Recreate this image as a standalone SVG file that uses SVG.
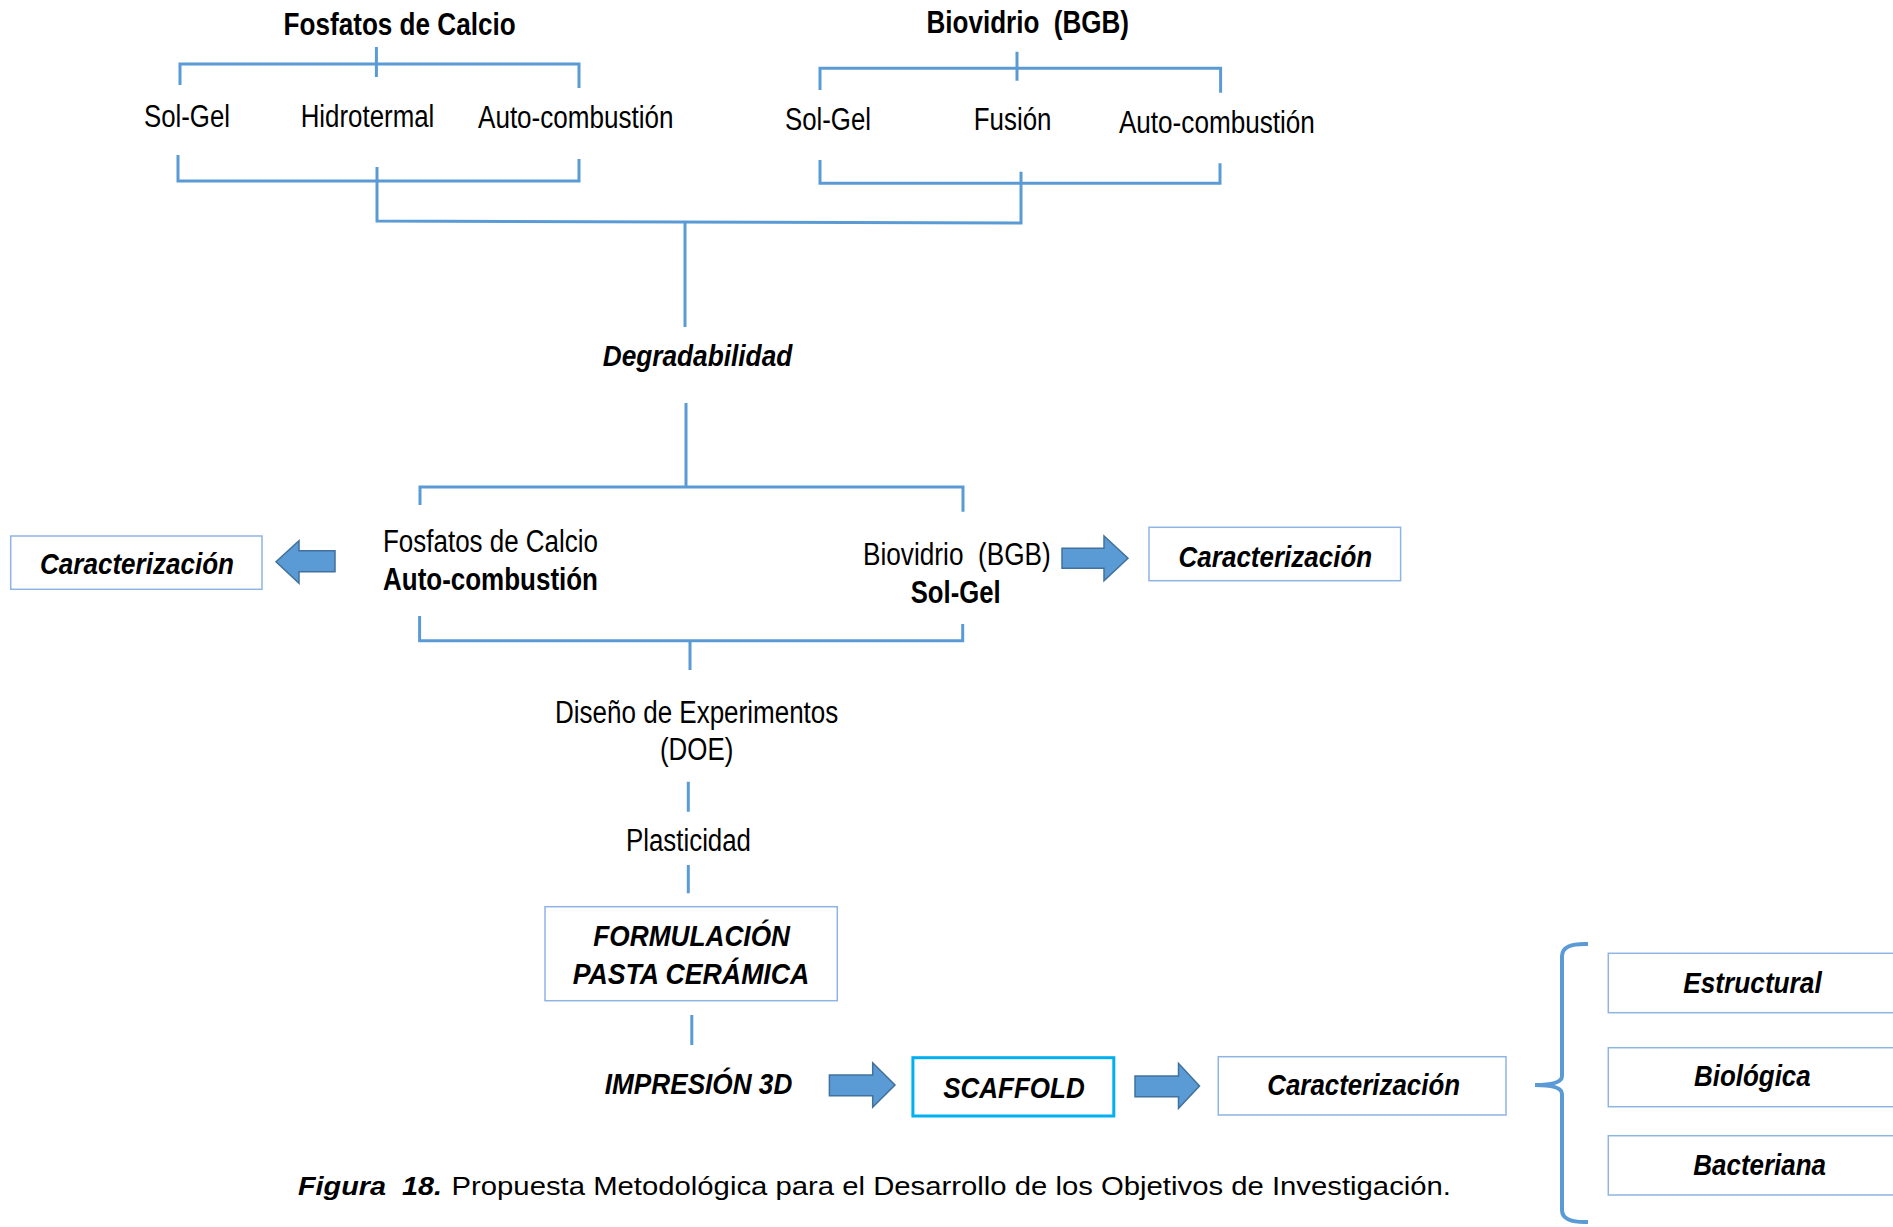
<svg xmlns="http://www.w3.org/2000/svg" width="1893" height="1227" viewBox="0 0 1893 1227">
<style>
.t{font-family:"Liberation Sans",Arial,sans-serif;font-size:31px;fill:#000}
.b{font-weight:bold}
.i{font-style:italic}
.bi{font-weight:bold;font-style:italic;font-size:29.5px}
.cap{font-size:26px}
.ln{stroke:#5B9BD5;stroke-width:3;fill:none}
.brace{stroke:#5B9BD5;stroke-width:4;fill:none}
.box{fill:#fff;stroke:#8EB4E3;stroke-width:1.5}
.sbox{fill:#fff;stroke:#00B0F0;stroke-width:3}
.arr{fill:#5B9BD5;stroke:#41719C;stroke-width:1.5}
</style>
<rect width="1893" height="1227" fill="#fff"/>
<g id="connectors">
<path class="ln" d="M180,85 V64 H579 V88 M376.4,47 V77"/>
<path class="ln" d="M178,155 V181 H579 V159 M377,167 V221 L1021,223 V171.7"/>
<path class="ln" d="M820,90 V68.3 H1220.6 V92.7 M1017,51.7 V80.7"/>
<path class="ln" d="M820,160 V183.3 H1220 V163.3"/>
<path class="ln" d="M685,223 V327 M686,403 V487"/>
<path class="ln" d="M420,505 V487 H963 V511.7"/>
<path class="ln" d="M419.6,616 V640.7 H962.7 V624 M690,640.7 V670"/>
<path class="ln" d="M688.3,781.7 V811.7 M688.3,865 V893.3 M691.8,1015 V1045"/>
<polygon class="arr" points="276,561.7 299,540.7 299,550.7 335,550.7 335,571.7 299,571.7 299,583.3"/>
<polygon class="arr" points="1062,548.3 1104,548.3 1104,536 1128,558.3 1104,580.7 1104,568.3 1062,568.3"/>
<polygon class="arr" points="829.4,1075 872.7,1075 872.7,1062.7 895,1085 872.7,1107.3 872.7,1095.7 829.4,1095.7"/>
<polygon class="arr" points="1135,1076 1178.5,1076 1178.5,1063.3 1199.5,1086 1178.5,1108.3 1178.5,1096.7 1135,1096.7"/>
<path class="brace" d="M1588,944 Q1562,943 1562,956 L1562,1076 Q1562,1085 1535,1085 Q1562,1085 1562,1094 L1562,1210 Q1562,1223 1588,1222"/>
</g>
<g id="fosfatos-top"><text class="t b" x="283.6" y="35" textLength="232" lengthAdjust="spacingAndGlyphs">Fosfatos de Calcio</text></g>
<g id="fc-solgel"><text class="t" x="144" y="127" textLength="86" lengthAdjust="spacingAndGlyphs">Sol-Gel</text></g>
<g id="fc-hidrotermal"><text class="t" x="300.7" y="127" textLength="133.6" lengthAdjust="spacingAndGlyphs">Hidrotermal</text></g>
<g id="fc-autocomb"><text class="t" x="478" y="128" textLength="195.6" lengthAdjust="spacingAndGlyphs">Auto-combustión</text></g>
<g id="biovidrio-top"><text class="t b" x="926.5" y="33.3" textLength="202.5" lengthAdjust="spacingAndGlyphs">Biovidrio&#160; (BGB)</text></g>
<g id="bv-solgel"><text class="t" x="785" y="130" textLength="86" lengthAdjust="spacingAndGlyphs">Sol-Gel</text></g>
<g id="bv-fusion"><text class="t" x="973.8" y="130" textLength="77.7" lengthAdjust="spacingAndGlyphs">Fusión</text></g>
<g id="bv-autocomb"><text class="t" x="1118.9" y="132.7" textLength="196" lengthAdjust="spacingAndGlyphs">Auto-combustión</text></g>
<g id="degradabilidad"><text class="t bi" x="602.7" y="366" textLength="189.6" lengthAdjust="spacingAndGlyphs">Degradabilidad</text></g>
<g id="fc-selected">
<text class="t" x="383" y="551.7" textLength="215" lengthAdjust="spacingAndGlyphs">Fosfatos de Calcio</text>
<text class="t b" x="383" y="590" textLength="215" lengthAdjust="spacingAndGlyphs">Auto-combustión</text>
</g>
<g id="bv-selected">
<text class="t" x="863" y="565" textLength="187.8" lengthAdjust="spacingAndGlyphs">Biovidrio&#160; (BGB)</text>
<text class="t b" x="910.7" y="602.7" textLength="89.9" lengthAdjust="spacingAndGlyphs">Sol-Gel</text>
</g>
<g id="caract-left">
<rect class="box" x="10.7" y="536" width="251.3" height="53.3"/>
<text class="t bi" x="40" y="574" textLength="194" lengthAdjust="spacingAndGlyphs">Caracterización</text>
</g>
<g id="caract-right">
<rect class="box" x="1149" y="527.3" width="251.6" height="53.4"/>
<text class="t bi" x="1178.6" y="566.7" textLength="193.6" lengthAdjust="spacingAndGlyphs">Caracterización</text>
</g>
<g id="doe">
<text class="t" x="555" y="723.3" textLength="283.3" lengthAdjust="spacingAndGlyphs">Diseño de Experimentos</text>
<text class="t" x="660" y="760" textLength="73.3" lengthAdjust="spacingAndGlyphs">(DOE)</text>
</g>
<g id="plasticidad"><text class="t" x="626" y="850.7" textLength="125" lengthAdjust="spacingAndGlyphs">Plasticidad</text></g>
<g id="formulacion">
<rect class="box" x="545" y="906.7" width="292.3" height="94"/>
<text class="t bi" x="593.3" y="945.7" textLength="196.7" lengthAdjust="spacingAndGlyphs">FORMULACIÓN</text>
<text class="t bi" x="572.7" y="984" textLength="236.6" lengthAdjust="spacingAndGlyphs">PASTA CERÁMICA</text>
</g>
<g id="impresion"><text class="t bi" x="604.8" y="1094" textLength="187.5" lengthAdjust="spacingAndGlyphs">IMPRESIÓN 3D</text></g>
<g id="scaffold">
<rect class="sbox" x="912.9" y="1057.7" width="200.9" height="58.3"/>
<text class="t bi" x="943.2" y="1098.3" textLength="141.5" lengthAdjust="spacingAndGlyphs">SCAFFOLD</text>
</g>
<g id="caract-bottom">
<rect class="box" x="1218.3" y="1056.7" width="287.7" height="58.3"/>
<text class="t bi" x="1267.3" y="1095" textLength="192.7" lengthAdjust="spacingAndGlyphs">Caracterización</text>
</g>
<g id="estructural">
<rect class="box" x="1608.3" y="953.3" width="300" height="59.4"/>
<text class="t bi" x="1683.3" y="992.7" textLength="138.4" lengthAdjust="spacingAndGlyphs">Estructural</text>
</g>
<g id="biologica">
<rect class="box" x="1608.3" y="1047.7" width="300" height="59"/>
<text class="t bi" x="1694" y="1085.7" textLength="116.7" lengthAdjust="spacingAndGlyphs">Biológica</text>
</g>
<g id="bacteriana">
<rect class="box" x="1608.3" y="1135.7" width="300" height="59.3"/>
<text class="t bi" x="1693.3" y="1175" textLength="132.7" lengthAdjust="spacingAndGlyphs">Bacteriana</text>
</g>
<g id="caption">
<text class="t cap b i" x="298" y="1195" textLength="144" lengthAdjust="spacingAndGlyphs">Figura&#160; 18.</text>
<text class="t cap" x="451.5" y="1195" textLength="999.5" lengthAdjust="spacingAndGlyphs">Propuesta Metodológica para el Desarrollo de los Objetivos de Investigación.</text>
</g>
</svg>
